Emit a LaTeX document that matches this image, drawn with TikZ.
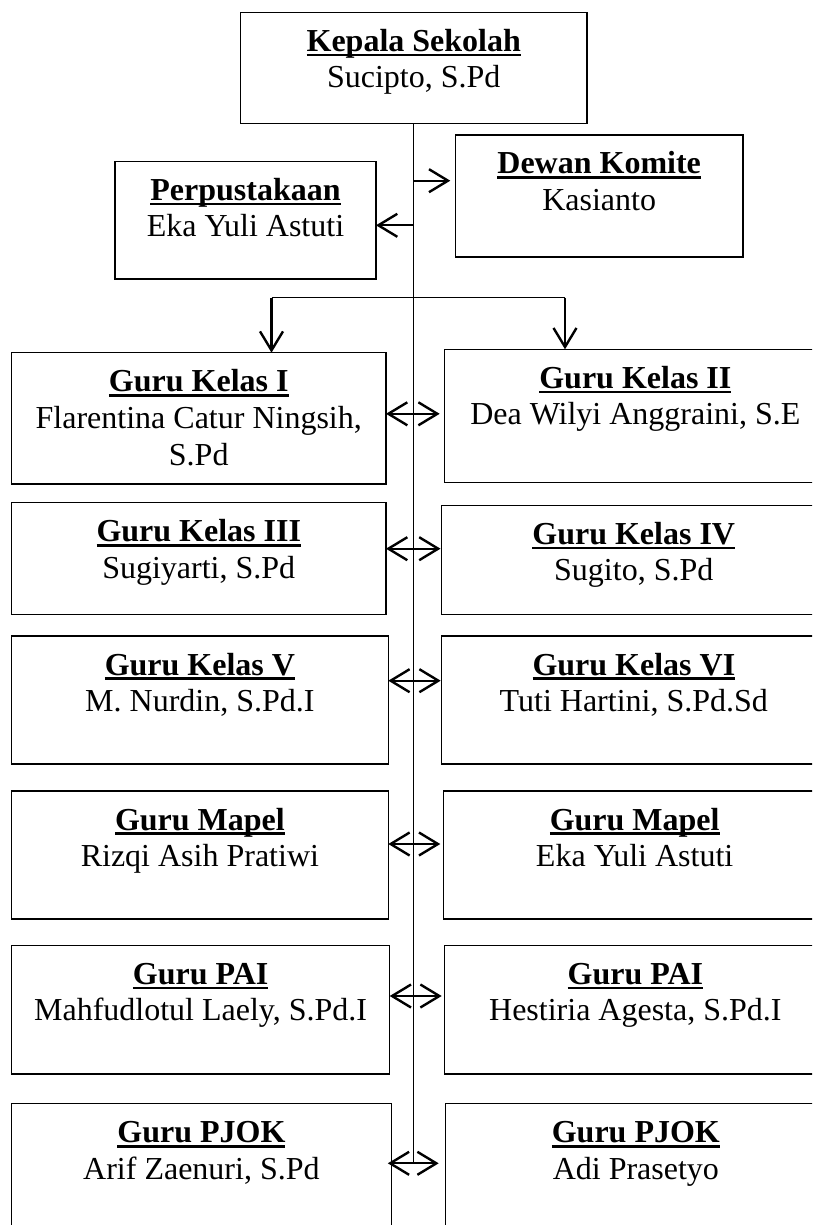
\documentclass[tikz,border=0pt]{standalone}
\usepackage{fontspec}
\setmainfont{Liberation Serif}
\usetikzlibrary{arrows.meta}
\newcommand\myul[1]{\setbox0\hbox{\bfseries #1}\rlap{\rule[-5pt]{\wd0}{2.7pt}}\box0}
\newcommand\orgbox[5]{\node[box, anchor=north west, minimum width={#4-#2}, minimum height={#5-#3}] (#1) at (#2,#3) {};}
\newcommand\orgtext[3]{\node[lbl] (#1t) at ([yshift=-39pt]#1.north) {\myul{#2}};
  \node[lbl] (#1n) at ([yshift=-75.5pt]#1.north) {#3};}
\begin{document}
\begin{tikzpicture}[x=1pt,y=-1pt,
  box/.style={draw=black, line width=1.3pt, inner sep=0pt, outer sep=0pt},
  lbl/.style={anchor=base, inner sep=0pt, font=\fontsize{32}{36.5}\selectfont},
  head/.tip={Straight Barb[length=19pt,width=23pt,line width=2.4pt]},
  tip/.style={-head, line width=2.2pt},
  dtip/.style={head-head, line width=2.2pt},
  trunk/.style={line width=1.1pt},
  bar/.style={line width=1.3pt}]
\useasboundingbox (0,0) rectangle (812,1225);
\fill[white] (0,0) rectangle (812,1225);
\clip (0,0) rectangle (812,1225);

% boxes
\orgbox{k}{240.5}{12.3}{587}{123.7}
\orgbox{pp}{115}{161.3}{376}{279}
\orgbox{dk}{455.3}{135}{743}{257}
\orgbox{g1}{11.5}{352.7}{386}{484}
\orgbox{g2}{444.7}{349.3}{826}{482.3}
\orgbox{g3}{11.5}{502.7}{386}{614.3}
\orgbox{g4}{441.5}{505.3}{826}{614.3}
\orgbox{g5}{11.5}{636}{388.3}{764}
\orgbox{g6}{441.7}{636}{826}{764}
\orgbox{g7}{11.5}{791}{388.3}{919}
\orgbox{g8}{443.3}{791}{826}{919}
\orgbox{g9}{11.5}{945.3}{389.7}{1074}
\orgbox{g10}{444.7}{945.3}{826}{1074}
\orgbox{g11}{11.5}{1103.7}{391.3}{1260}
\orgbox{g12}{445.7}{1103.7}{826}{1260}

% texts
\orgtext{k}{Kepala Sekolah}{Sucipto, S.Pd}
\orgtext{pp}{Perpustakaan}{Eka Yuli Astuti}
\orgtext{dk}{Dewan Komite}{Kasianto}
\orgtext{g1}{Guru Kelas I}{Flarentina Catur Ningsih,}
\node[lbl] (g1m) at ([yshift=-112.3pt]g1.north) {S.Pd};
\orgtext{g2}{Guru Kelas II}{Dea Wilyi Anggraini, S.E}
\orgtext{g3}{Guru Kelas III}{Sugiyarti, S.Pd}
\orgtext{g4}{Guru Kelas IV}{Sugito, S.Pd}
\orgtext{g5}{Guru Kelas V}{M. Nurdin, S.Pd.I}
\orgtext{g6}{Guru Kelas VI}{Tuti Hartini, S.Pd.Sd}
\orgtext{g7}{Guru Mapel}{Rizqi Asih Pratiwi}
\orgtext{g8}{Guru Mapel}{Eka Yuli Astuti}
\orgtext{g9}{Guru PAI}{Mahfudlotul Laely, S.Pd.I}
\orgtext{g10}{Guru PAI}{Hestiria Agesta, S.Pd.I}
\orgtext{g11}{Guru PJOK}{Arif Zaenuri, S.Pd}
\orgtext{g12}{Guru PJOK}{Adi Prasetyo}

% helper levels
\coordinate (ydk) at (0,180.7);
\coordinate (ypp) at (0,225.3);
\coordinate (bl) at (271.5,297.5);
\coordinate (br) at (565,297.5);
\coordinate (r1) at (0,413.8);
\coordinate (r2) at (0,548.7);
\coordinate (r3) at (0,680.7);
\coordinate (r4) at (0,844);
\coordinate (r5) at (0,996);
\coordinate (r6) at (0,1163.3);

% trunk
\draw[trunk] (k.south) -- (k.south |- r6);

% side arrows
\draw[tip] (k.south |- ydk) -- ([xshift=-5pt]dk.west |- ydk);
\draw[tip] (k.south |- ypp) -- (pp.east |- ypp);

% bracket
\draw[bar] (bl) -- (br);
\draw[tip] (bl) -- (bl |- g1.north);
\draw[tip] (br) -- (br |- g2.north);

% double arrows
\draw[dtip] (g1.east |- r1) -- ([xshift=-5pt]g2.west |- r1);
\draw[dtip] (g3.east |- r2) -- ([xshift=-1pt]g4.west |- r2);
\draw[dtip] (g5.east |- r3) -- ([xshift=-1pt]g6.west |- r3);
\draw[dtip] (g7.east |- r4) -- ([xshift=-3pt]g8.west |- r4);
\draw[dtip] (g9.east |- r5) -- ([xshift=-3pt]g10.west |- r5);
\draw[dtip] ([xshift=-3.5pt]g11.east |- r6) -- ([xshift=-7pt]g12.west |- r6);
\end{tikzpicture}
\end{document}
